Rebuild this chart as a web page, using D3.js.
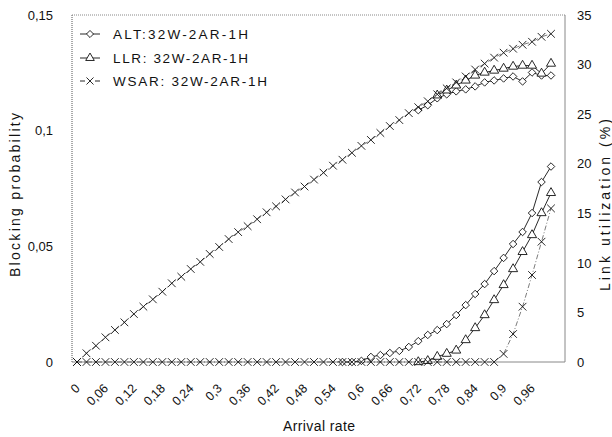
<!DOCTYPE html>
<html>
<head>
<meta charset="utf-8">
<script src="https://cdn.jsdelivr.net/npm/d3@7"></script>
<style>
  body { margin: 0; background: #fff; }
  text { font-family: "Liberation Sans", Arial, sans-serif; fill: #111; }
</style>
</head>
<body>
<div id="chart"></div>
<script>
// arrival rate categories (x axis)
const arrival = [0, 0.02, 0.04, 0.06, 0.08, 0.1, 0.12, 0.14, 0.16, 0.18,
  0.2, 0.22, 0.24, 0.26, 0.28, 0.3, 0.32, 0.34, 0.36, 0.38,
  0.4, 0.42, 0.44, 0.46, 0.48, 0.5, 0.52, 0.54, 0.56, 0.58,
  0.6, 0.62, 0.64, 0.66, 0.68, 0.7, 0.72, 0.74, 0.76, 0.78,
  0.8, 0.82, 0.84, 0.86, 0.88, 0.9, 0.92, 0.94, 0.96, 0.98, 1.0];

const tickRates = [0, 0.06, 0.12, 0.18, 0.24, 0.3, 0.36, 0.42, 0.48, 0.54, 0.6, 0.66, 0.72, 0.78, 0.84, 0.9, 0.96];
const tickLabels = ["0", "0,06", "0,12", "0,18", "0,24", "0,3", "0,36", "0,42", "0,48", "0,54", "0,6", "0,66", "0,72", "0,78", "0,84", "0,9", "0,96"];

const legendNames = ["ALT:32W-2AR-1H", "LLR: 32W-2AR-1H", "WSAR: 32W-2AR-1H"];

const _ = null;

// blocking probability (left axis)
const altBlocking = [_, _, _, _, _, _, _, _, _, _,
  _, _, _, _, _, _, _, _, _, _,
  _, _, _, _, _, _, _, _, 0, 0,
  0.0005, 0.0022, 0.003, 0.0039, 0.0048, 0.0065, 0.009, 0.0117, 0.0138, 0.0164,
  0.0203, 0.0246, 0.0294, 0.0337, 0.0393, 0.045, 0.051, 0.0562, 0.0644, 0.0778, 0.0845];

const llrBlocking = [_, _, _, _, _, _, _, _, _, _,
  _, _, _, _, _, _, _, _, _, _,
  _, _, _, _, _, _, _, _, _, _,
  _, _, _, _, _, _, 0, 0.0005, 0.0023, 0.0036,
  0.005, 0.0095, 0.0147, 0.0203, 0.0268, 0.0333, 0.0402, 0.0476, 0.0549, 0.0644, 0.0731];

const wsarBlocking = [0, 0, 0, 0, 0, 0, 0, 0, 0, 0,
  0, 0, 0, 0, 0, 0, 0, 0, 0, 0,
  0, 0, 0, 0, 0, 0, 0, 0, 0, 0,
  0, 0, 0, 0, 0, 0, 0, 0, 0, 0,
  0, 0, 0, 0, 0, 0.0035, 0.0121, 0.0239, 0.0376, 0.052, 0.0664];

// link utilization % (right axis)
const altUtil = [_, _, _, _, _, _, _, _, _, _,
  _, _, _, _, _, _, _, _, _, _,
  _, _, _, _, _, _, _, _, _, _,
  _, _, _, _, _, _, 25.4, 25.9, 26.6, 27.0,
  27.3, 27.5, 27.8, 28.2, 28.4, 28.6, 28.8, 28.3, 29.2, 28.9, 28.9];

const llrUtil = [_, _, _, _, _, _, _, _, _, _,
  _, _, _, _, _, _, _, _, _, _,
  _, _, _, _, _, _, _, _, _, _,
  _, _, _, _, _, _, _, _, 26.9, 27.4,
  27.9, 28.4, 28.9, 29.2, 29.4, 29.6, 29.8, 29.9, 29.9, 29.1, 30.1];

const wsarUtil = [0, 0.88, 1.64, 2.49, 3.23, 4.0, 4.84, 5.58, 6.32, 7.09,
  7.94, 8.6, 9.38, 10.1, 10.9, 11.6, 12.4, 13.1, 13.7, 14.4,
  15.1, 15.7, 16.4, 17.1, 17.7, 18.4, 19.1, 19.8, 20.4, 21.1,
  21.8, 22.4, 23.1, 23.8, 24.4, 25.1, 25.7, 26.3, 27.0, 27.6,
  28.2, 28.8, 29.5, 30.1, 30.7, 31.2, 31.6, 32.0, 32.3, 32.8, 33.1];

window.addEventListener("load", () => {
  const width = 612, height = 437;
  const plot = {left: 72, right: 565, top: 15, bottom: 362};

  const svg = d3.select("#chart")
    .append("svg")
    .attr("width", width)
    .attr("height", height);

  const x = d3.scalePoint()
    .domain(arrival)
    .range([plot.left + 5, plot.right - 14]);

  const yLeft = d3.scaleLinear().domain([0, 0.15]).range([plot.bottom, plot.top]);
  const yRight = d3.scaleLinear().domain([0, 35]).range([plot.bottom, plot.top]);

  const comma = d => String(d).replace(".", ",");

  // plot frame
  const frame = svg.append("g").attr("class", "frame");
  frame.append("line")
    .attr("x1", plot.left).attr("x2", plot.left)
    .attr("y1", plot.top).attr("y2", plot.bottom)
    .attr("stroke", "#555").attr("stroke-dasharray", "1,1");
  frame.append("line")
    .attr("x1", plot.left).attr("x2", plot.right)
    .attr("y1", plot.top).attr("y2", plot.top)
    .attr("stroke", "#888").attr("stroke-dasharray", "1,1");
  frame.append("line")
    .attr("x1", plot.right).attr("x2", plot.right)
    .attr("y1", plot.top).attr("y2", plot.bottom)
    .attr("stroke", "#888");
  frame.append("line")
    .attr("x1", plot.left).attr("x2", plot.right)
    .attr("y1", plot.bottom).attr("y2", plot.bottom)
    .attr("stroke", "#888");

  svg.append("g")
    .attr("class", "y axis")
    .attr("transform", "translate(" + plot.left + ",0)")
    .call(d3.axisLeft(yLeft).tickValues([0, 0.05, 0.1, 0.15]).tickFormat(comma).tickSize(0).tickPadding(19))
    .call(g => g.select(".domain").remove())
    .selectAll("text").attr("fill", "#111").style("font-size", "13px");

  svg.append("g")
    .attr("class", "y2 axis")
    .attr("transform", "translate(" + plot.right + ",0)")
    .call(d3.axisRight(yRight).tickValues([0, 5, 10, 15, 20, 25, 30, 35]).tickSize(0).tickPadding(12))
    .call(g => g.select(".domain").remove())
    .selectAll("text").attr("fill", "#111").style("font-size", "13px");

  svg.append("g")
    .attr("class", "x axis")
    .attr("transform", "translate(0," + plot.bottom + ")")
    .call(d3.axisBottom(x).tickValues(tickRates).tickFormat((d, i) => tickLabels[i]).tickSize(0))
    .call(g => g.select(".domain").remove())
    .selectAll("text")
    .attr("fill", "#111")
    .style("font-size", "12.5px")
    .attr("x", 0).attr("y", 0).attr("dy", "0.35em")
    .attr("text-anchor", "end")
    .attr("transform", "translate(0,24) rotate(-45)");

  // axis titles
  svg.append("text")
    .attr("transform", "translate(20,195) rotate(-90)")
    .attr("text-anchor", "middle")
    .attr("textLength", 164)
    .style("font-size", "14px")
    .text("Blocking probability");

  svg.append("text")
    .attr("transform", "translate(610,205) rotate(-90)")
    .attr("text-anchor", "middle")
    .attr("textLength", 172)
    .style("font-size", "14px")
    .text("Link utilization (%)");

  svg.append("text")
    .attr("x", 319).attr("y", 431)
    .attr("text-anchor", "middle")
    .attr("textLength", 72)
    .style("font-size", "14px")
    .text("Arrival rate");

  const series = [
    {values: altBlocking, y: yLeft, symbol: d3.symbolDiamond2, size: 36, dash: null},
    {values: altUtil, y: yRight, symbol: d3.symbolDiamond2, size: 36, dash: null},
    {values: llrBlocking, y: yLeft, symbol: d3.symbolTriangle, size: 36, dash: null},
    {values: llrUtil, y: yRight, symbol: d3.symbolTriangle, size: 36, dash: null},
    {values: wsarBlocking, y: yLeft, symbol: d3.symbolTimes, size: 40, dash: "5,2,1,2"},
    {values: wsarUtil, y: yRight, symbol: d3.symbolTimes, size: 40, dash: "5,2,1,2"}
  ];

  series.forEach(s => {
    const lineGenerator = d3.line()
      .defined(d => d != null)
      .x((d, i) => x(arrival[i]))
      .y(d => s.y(d));

    svg.append("path")
      .attr("d", lineGenerator(s.values))
      .attr("fill", "none")
      .attr("stroke", s.dash ? "#444" : "#111")
      .attr("stroke-width", s.dash ? 0.7 : 0.9)
      .attr("stroke-dasharray", s.dash);

    const pts = s.values.map((v, i) => ({v: v, a: arrival[i]})).filter(d => d.v != null);

    svg.append("g")
      .selectAll("path")
      .data(pts)
      .enter()
      .append("path")
      .attr("transform", d => "translate(" + x(d.a) + "," + s.y(d.v) + ")")
      .attr("d", d3.symbol().type(s.symbol).size(s.size))
      .attr("fill", "#fff")
      .attr("stroke", "#111")
      .attr("stroke-width", 0.9);
  });

  // legend
  const legendSymbols = [d3.symbolDiamond2, d3.symbolTriangle, d3.symbolTimes];
  const legendY = [34, 58, 81];
  const legendLen = [135, 135, 154];
  legendNames.forEach((name, i) => {
    const g = svg.append("g").attr("transform", "translate(0," + legendY[i] + ")");
    g.append("line")
      .attr("x1", 80).attr("x2", 100)
      .attr("stroke", "#111").attr("stroke-width", 0.9)
      .attr("stroke-dasharray", i === 2 ? "5,10" : null);
    g.append("path")
      .attr("transform", "translate(90,0)")
      .attr("d", d3.symbol().type(legendSymbols[i]).size(i === 2 ? 34 : 32))
      .attr("fill", "#fff").attr("stroke", "#111").attr("stroke-width", 0.9);
    g.append("text")
      .attr("x", 113).attr("dy", "0.35em")
      .attr("textLength", legendLen[i])
      .style("font-size", "13.5px")
      .text(name);
  });
});
</script>
</body>
</html>
